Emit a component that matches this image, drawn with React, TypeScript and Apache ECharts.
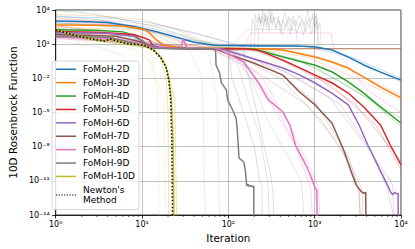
import React, { useEffect, useRef } from 'react';
import * as echarts from 'echarts';

// ---------- tick definitions ----------
const xMajorTicks = [1, 10, 100, 1000, 10000];
const yTickExponents = [-14, -11, -8, -5, -2, 1, 4];
const minorMantissas = [2, 3, 4, 5, 6, 7, 8, 9];
const minorDecades = [1, 10, 100, 1000];

// ---------- legend / series names ----------
const mainNames = ['FoMoH-2D', 'FoMoH-3D', 'FoMoH-4D', 'FoMoH-5D', 'FoMoH-6D', 'FoMoH-7D', 'FoMoH-8D', 'FoMoH-9D', 'FoMoH-10D'];
const newtonName = "Newton's Method";

// ---------- main curves: [iteration, function value] ----------
const fomoh2D = [[1, 1100], [2, 1000], [4, 800], [8, 350], [15, 120], [25, 40], [40, 15], [70, 8], [200, 7], [600, 6.8], [1000, 6], [1600, 3], [2500, 0.7], [3700, 0.15], [5800, 0.035], [10000, 0.007]];
const fomoh3D = [[1, 480], [3, 450], [6, 400], [9, 250], [11, 180], [13, 60], [15, 20], [18, 8], [30, 4.5], [100, 4.2], [250, 4], [430, 3.1], [1000, 0.75], [1600, 0.27], [2450, 0.08], [3700, 0.013], [5800, 0.0017], [10000, 0.00019]];
const fomoh4D = [[1, 180], [3, 170], [6, 120], [8, 60], [10, 20], [12, 6], [20, 4.3], [100, 4.1], [200, 3.8], [430, 0.75], [1000, 0.15], [1600, 0.036], [2450, 0.0048], [3700, 0.00051], [5800, 0.00003], [10000, 1.2e-6]];
const fomoh5D = [[1, 130], [3, 110], [8, 70], [12, 25], [14, 5], [30, 4.2], [150, 4], [220, 3], [430, 0.4], [1000, 0.02], [1600, 0.0039], [2450, 0.00051], [3700, 0.00003], [5800, 8e-7], [7500, 1.4e-8], [10000, 2.5e-10]];
const fomoh6D = [[1, 100], [4, 90], [8, 50], [12, 8], [20, 4.2], [83, 3.9], [200, 0.5], [430, 0.08], [668, 0.02], [1013, 0.0039], [1580, 0.0005], [2455, 0.000046], [3265, 8e-7], [4130, 1.4e-8], [5350, 2.5e-10], [6950, 4.4e-12], [7500, 1.2e-12], [8000, 6e-13], [8500, 1e-12], [9000, 7e-13], [9250, 8e-13], [9300, 1e-17]];
const fomoh7D = [[1, 70], [5, 50], [10, 15], [14, 4.3], [69, 4], [108, 1.1], [197, 0.22], [430, 0.019], [668, 0.00063], [1013, 0.000046], [1580, 1.2e-6], [1890, 5.8e-8], [2210, 3.4e-9], [2650, 6.3e-11], [3020, 4.4e-12], [3440, 1.2e-12], [3720, 8e-13], [3900, 1e-12], [3950, 1e-17]];
const fomoh8D = [[1, 40], [5, 30], [10, 10], [14, 4.5], [28, 4.3], [30, 30], [33, 5], [40, 4.3], [75, 4], [151, 0.27], [224, 0.0039], [290, 0.00013], [430, 1.1e-5], [515, 8e-7], [600, 1.4e-8], [720, 1e-9], [822, 1.35e-10], [935, 1.2e-11], [1013, 2.3e-12], [1060, 1.6e-12], [1070, 1e-17]];
const fomoh9D = [[1, 50], [4, 40], [9, 10], [13, 4.3], [69, 4], [71, 3], [72, 0.15], [79, 0.03], [83, 0.004], [95, 0.00095], [98, 0.00013], [108, 3e-5], [123, 3.3e-6], [126, 5.4e-7], [133, 1e-9], [151, 4.5e-10], [158, 6.3e-11], [163, 3.5e-12], [170, 5e-12], [175, 3e-12], [180, 4e-12], [190, 3e-12], [197, 3.5e-12], [198, 1e-17]];
const fomoh10D = [[1, 180], [2, 45], [3, 24], [3.7, 19], [4.3, 27], [5.6, 16], [7.2, 10.5], [10.4, 8.3], [13.5, 3.3], [16.6, 0.7], [18.9, 0.12], [20.4, 0.01], [21.8, 2e-4], [22.8, 1e-7], [23.3, 1e-12], [23.5, 1e-17]];
const newton = [[1, 175], [2, 43], [3, 23.5], [3.7, 19], [4.3, 28], [5.6, 15.5], [7.2, 10.2], [10.4, 8.5], [13.5, 3.1], [16.6, 0.6], [18.9, 0.1], [20.4, 0.007], [21.5, 1.3e-4], [22.2, 1e-8], [22.7, 1e-17]];

// ---------- faint individual runs ----------
const runBlueA = [[1, 3000], [3, 1500], [10, 300], [30, 30], [100, 8], [600, 7], [1500, 4], [3000, 0.5], [10000, 0.01]];
const runBlueB = [[1, 600], [5, 500], [20, 60], [60, 7.5], [800, 6.5], [2000, 1.2], [5000, 0.06], [10000, 0.005]];
const runOrangeA = [[1, 2000], [4, 900], [15, 80], [40, 4.5], [300, 4.2], [1000, 1], [3000, 0.03], [10000, 0.0003]];
const runOrangeB = [[1, 300], [8, 200], [20, 10], [200, 4], [800, 0.8], [3000, 0.01], [10000, 0.00012]];
const runGreenA = [[1, 800], [10, 200], [30, 5], [150, 4], [600, 0.5], [2000, 0.005], [10000, 3e-6]];
const runGreenB = [[1, 120], [6, 80], [14, 4.3], [250, 3.5], [1000, 0.1], [4000, 0.0002], [10000, 6e-7]];
const runRedA = [[1, 400], [10, 50], [20, 4.2], [180, 3.8], [800, 0.05], [3000, 0.00005], [10000, 5e-10]];
const runRedB = [[1, 90], [8, 60], [16, 4.2], [250, 2.5], [1500, 0.003], [5000, 1e-6], [10000, 1e-10]];
const runPurpleA = [[1, 250], [10, 40], [20, 4.2], [100, 3.5], [500, 0.03], [2000, 0.00005], [5000, 1e-9], [8000, 5e-12], [8600, 1e-17]];
const runPurpleB = [[1, 70], [12, 10], [25, 4.1], [70, 3.8], [300, 0.2], [1500, 0.0002], [4500, 3e-9], [7000, 2e-12], [9800, 1e-17]];
const runBrownA = [[1, 150], [10, 20], [18, 4.2], [60, 3.9], [200, 0.05], [800, 0.00005], [2000, 1e-8], [3000, 1e-11], [3300, 1e-12], [3400, 1e-17]];
const runBrownB = [[1, 60], [14, 4.1], [90, 3.5], [400, 0.01], [1200, 2e-6], [2800, 1e-10], [3500, 2e-12], [3800, 1e-17]];
const runBrownC = [[1, 40], [40, 4.2], [120, 3], [350, 0.05], [1000, 0.0001], [2500, 1e-9], [3200, 2e-12], [3650, 1e-17]];
const runPinkA = [[1, 200], [15, 4.5], [60, 4], [120, 0.5], [300, 0.0001], [600, 1e-8], [800, 3e-11], [900, 2e-12], [1000, 1e-17]];
const runPinkB = [[1, 90], [20, 4.3], [100, 3.5], [250, 0.01], [500, 1e-6], [900, 1e-10], [1100, 3e-12], [1200, 1e-17]];
const runPinkC = [[1, 30], [150, 4.2], [180, 95], [1550, 95], [1650, 5], [2500, 0.1], [4000, 0.001], [10000, 1e-5]];
const runPinkD = [[100, 4], [170, 200], [600, 200], [650, 4]];
const runPinkE = [[1, 50], [30, 4.3], [90, 3.7], [180, 0.05], [350, 5e-5], [700, 1e-9], [1000, 1e-11], [1150, 1e-17]];
const runGrayA = [[1, 100], [40, 4.2], [150, 4], [160, 0.1], [200, 1e-4], [260, 1e-8], [300, 1e-10], [330, 1e-12], [340, 1e-17]];
const runGrayB = [[1, 60], [60, 4], [100, 3.8], [110, 0.01], [150, 1e-5], [200, 1e-8], [230, 1e-11], [245, 5e-12], [250, 1e-17]];
const runGrayC = [[1, 200], [30, 4], [120, 3.5], [180, 0.01], [300, 1e-6], [500, 1e-9], [700, 1e-11], [800, 1e-17]];
const runGrayD = [[1, 80], [20, 4.3], [90, 3.6], [130, 0.1], [170, 1e-4], [230, 1e-7], [270, 1e-10], [290, 3e-12], [300, 1e-17]];
const runGrayNoisyA = [[200, 4], [205, 4000], [215, 800], [225, 5000], [235, 600], [245, 3000], [255, 400], [265, 6000], [275, 300], [285, 2500], [295, 150], [310, 4000], [325, 500], [340, 2000], [360, 200], [380, 3000], [400, 100], [430, 1500], [460, 300], [500, 2500], [540, 150], [580, 1200], [620, 90], [680, 800], [740, 60], [800, 1000], [870, 300], [950, 5000], [1000, 100], [1050, 4000], [1100, 200], [1150, 800], [1200, 4], [1500, 3.8]];
const runGrayNoisyB = [[180, 4], [190, 1500], [210, 200], [230, 2500], [250, 120], [270, 1800], [290, 500], [320, 7000], [350, 300], [390, 1200], [420, 60], [470, 900], [520, 70], [560, 3000], [650, 250], [720, 1500], [780, 120], [850, 2000], [920, 80], [980, 700], [1030, 3000], [1080, 150], [1130, 4], [1300, 3.9]];
const runGrayNoisyC = [[220, 4], [228, 2000], [240, 700], [250, 8000], [262, 900], [272, 3500], [282, 1200], [300, 9000], [315, 700], [332, 2500], [370, 1500], [410, 400], [450, 6000], [490, 700], [530, 1800], [600, 400], [660, 3500], [760, 500], [830, 8000], [890, 1000], [960, 2500], [1010, 300], [1060, 1200], [1090, 4]];
const runOliveA = [[1, 250], [3, 30], [8, 9], [12, 5], [16, 1], [19, 0.01], [20, 1e-5], [20.5, 1e-17]];
const runOliveB = [[1, 100], [3, 20], [9, 7], [14, 3], [20, 0.05], [24, 1e-4], [25.5, 1e-17]];
const runTopGreen = [[1, 9000], [2, 6000], [5, 2000], [15, 300], [40, 30], [80, 5]];
const runTopOrange = [[1, 4000], [3, 3000], [10, 1500], [25, 200], [50, 20], [100, 4.5]];
const runTopBlue = [[1, 2500], [4, 2000], [12, 800], [40, 100], [120, 10], [400, 7]];
const runTopPink = [[1, 1500], [6, 1000], [20, 300], [60, 40], [150, 5]];
const runTopPurple = [[1, 700], [10, 400], [30, 50], [70, 4.5]];
const runTopRed = [[1, 1000], [5, 600], [15, 100], [35, 10], [60, 4.2]];
const runStuckBrown = [[20, 4.1], [100, 3.99], [10000, 3.99]];
const runStuckOrange = [[30, 4.05], [200, 3.99], [10000, 3.99]];
const dotRunA = [[1, 80], [5, 10], [10, 5], [13, 1], [15, 1e-3], [16, 1e-17]];
const dotRunB = [[1, 300], [10, 20], [40, 4], [60, 1], [75, 1e-4], [80, 1e-17]];
const dotRunC = [[1, 40], [4, 8], [8, 4], [12, 0.5], [18, 1e-4], [19, 1e-17]];
const dotRunD = [[1, 500], [6, 50], [20, 8], [35, 3], [50, 0.01], [55, 1e-17]];
const dotRunE = [[1, 20], [3, 6], [6, 1], [8, 1e-3], [9.5, 1e-17]];

const COLORS = ['#1f77b4', '#ff7f0e', '#2ca02c', '#d62728', '#9467bd', '#8c564b', '#e377c2', '#7f7f7f', '#bcbd22'];
const fade = (hex: string, a: number) => {
  const n = parseInt(hex.slice(1), 16);
  return `rgba(${(n >> 16) & 255},${(n >> 8) & 255},${n & 255},${a})`;
};

const SUP: Record<string, string> = { '0': '⁰', '1': '¹', '2': '²', '3': '³', '4': '⁴', '5': '⁵', '6': '⁶', '7': '⁷', '8': '⁸', '9': '⁹', '-': '⁻' };
const pow10Label = (e: number) => '10' + String(e).split('').map((c) => SUP[c] || c).join('');

const Y_OFFSET = 14; // y axis holds log10(value) + 14 so ticks fall on multiples of 3
const toXY = (d: number[][]) => d.map(([x, v]) => [x, Math.log10(v) + Y_OFFSET]);

const DOTTED_ICON = 'path://M0,0h1.2v1h-1.2zM2.7,0h1.2v1h-1.2zM5.4,0h1.2v1h-1.2zM8.1,0h1.2v1h-1.2zM10.8,0h1.2v1h-1.2zM13.5,0h1.2v1h-1.2zM16.2,0h1.2v1h-1.2zM18.8,0h1.2v1h-1.2z';

export default function App() {
  const ref = useRef<HTMLDivElement>(null);
  useEffect(() => {
    if (!ref.current) return;
    const chart = echarts.init(ref.current, undefined, { renderer: 'svg' });
    const font = 'DejaVu Sans';

    const faintRuns: { d: number[][]; c: string; a: number; dotted?: boolean }[] = [
      { d: runTopGreen, c: COLORS[2], a: 0.25 },
      { d: runTopOrange, c: COLORS[1], a: 0.25 },
      { d: runTopBlue, c: COLORS[0], a: 0.25 },
      { d: runTopPink, c: COLORS[6], a: 0.25 },
      { d: runTopPurple, c: COLORS[4], a: 0.25 },
      { d: runTopRed, c: COLORS[3], a: 0.25 },
      { d: runGrayNoisyA, c: COLORS[7], a: 0.2 },
      { d: runGrayNoisyB, c: COLORS[7], a: 0.2 },
      { d: runGrayNoisyC, c: COLORS[7], a: 0.2 },
      { d: runGrayA, c: COLORS[7], a: 0.25 },
      { d: runGrayB, c: COLORS[7], a: 0.25 },
      { d: runGrayC, c: COLORS[7], a: 0.2 },
      { d: runGrayD, c: COLORS[7], a: 0.2 },
      { d: runBlueA, c: COLORS[0], a: 0.25 },
      { d: runBlueB, c: COLORS[0], a: 0.25 },
      { d: runOrangeA, c: COLORS[1], a: 0.25 },
      { d: runOrangeB, c: COLORS[1], a: 0.25 },
      { d: runGreenA, c: COLORS[2], a: 0.25 },
      { d: runGreenB, c: COLORS[2], a: 0.25 },
      { d: runRedA, c: COLORS[3], a: 0.25 },
      { d: runRedB, c: COLORS[3], a: 0.25 },
      { d: runPurpleA, c: COLORS[4], a: 0.25 },
      { d: runPurpleB, c: COLORS[4], a: 0.25 },
      { d: runBrownA, c: COLORS[5], a: 0.22 },
      { d: runBrownB, c: COLORS[5], a: 0.22 },
      { d: runBrownC, c: COLORS[5], a: 0.22 },
      { d: runPinkA, c: COLORS[6], a: 0.3 },
      { d: runPinkB, c: COLORS[6], a: 0.3 },
      { d: runPinkC, c: COLORS[6], a: 0.3 },
      { d: runPinkD, c: COLORS[6], a: 0.25 },
      { d: runPinkE, c: COLORS[6], a: 0.3 },
      { d: runOliveA, c: COLORS[8], a: 0.35 },
      { d: runOliveB, c: COLORS[8], a: 0.35 },
      { d: runStuckOrange, c: COLORS[1], a: 0.45 },
      { d: runStuckBrown, c: COLORS[5], a: 0.65 },
      { d: dotRunA, c: COLORS[8], a: 0.5, dotted: true },
      { d: dotRunB, c: COLORS[7], a: 0.45, dotted: true },
      { d: dotRunC, c: COLORS[8], a: 0.5, dotted: true },
      { d: dotRunD, c: COLORS[7], a: 0.45, dotted: true },
      { d: dotRunE, c: COLORS[7], a: 0.45, dotted: true },
    ];

    const mainData = [fomoh2D, fomoh3D, fomoh4D, fomoh5D, fomoh6D, fomoh7D, fomoh8D, fomoh9D, fomoh10D];

    const minorTicks: number[][] = [];
    minorDecades.forEach((d) => minorMantissas.forEach((m) => minorTicks.push([m * d, 0])));

    const series: any[] = [];
    faintRuns.forEach((r, i) => {
      series.push({
        id: 'faint' + i,
        type: 'line',
        data: toXY(r.d),
        showSymbol: false,
        symbol: 'none',
        silent: true,
        z: 1,
        lineStyle: { color: fade(r.c, r.a), width: r.dotted ? 0.8 : 1, type: r.dotted ? [1, 1.6] : 'solid' },
      });
    });
    mainData.forEach((d, i) => {
      series.push({
        name: mainNames[i],
        type: 'line',
        data: toXY(d),
        showSymbol: false,
        symbol: 'none',
        silent: true,
        z: 2,
        color: COLORS[i],
        lineStyle: { color: COLORS[i], width: 1.5 },
      });
    });
    series.push({
      name: newtonName,
      type: 'line',
      data: toXY(newton),
      showSymbol: false,
      symbol: 'none',
      silent: true,
      z: 3,
      color: '#000',
      lineStyle: { color: '#000', width: 1.5, type: [1.5, 2] },
    });
    series.push({
      id: 'minorTicks',
      type: 'custom',
      silent: true,
      clip: false,
      z: 5,
      data: minorTicks,
      encode: { x: 0, y: 1 },
      renderItem: (_p: any, api: any) => {
        const pt = api.coord([api.value(0), 0]);
        return {
          type: 'line',
          shape: { x1: pt[0], y1: pt[1], x2: pt[0], y2: pt[1] + 2 },
          style: { stroke: '#000', lineWidth: 0.6 },
        };
      },
    });

    chart.setOption({
      animation: false,
      backgroundColor: '#fff',
      textStyle: { fontFamily: font },
      grid: { left: 47, right: 14, top: 10, bottom: 34, show: true, borderColor: '#000', borderWidth: 0.8, backgroundColor: 'transparent' },
      legend: {
        data: [...mainNames.map((n) => ({ name: n, icon: 'rect' })), { name: newtonName, icon: DOTTED_ICON }],
        orient: 'vertical',
        left: 52,
        top: 61,
        padding: [3, 4, 4, 4],
        itemWidth: 20,
        itemHeight: 1.5,
        itemGap: 2.9,
        backgroundColor: 'rgba(255,255,255,0.85)',
        borderColor: '#cccccc',
        borderWidth: 0.8,
        borderRadius: 3,
        selectedMode: false,
        formatter: (n: string) => (n === newtonName ? "Newton's\nMethod" : n),
        textStyle: { fontFamily: font, fontSize: 9, lineHeight: 10.5, color: '#000', padding: [0, 0, 0, 2] },
      },
      xAxis: {
        type: 'log',
        logBase: 10,
        min: xMajorTicks[0],
        max: xMajorTicks[xMajorTicks.length - 1],
        name: 'Iteration',
        nameLocation: 'middle',
        nameGap: 13,
        nameTextStyle: { fontFamily: font, fontSize: 10.4, color: '#000' },
        axisLine: { show: true, lineStyle: { color: '#000', width: 0.8 } },
        axisTick: { show: true, length: 3.5, lineStyle: { color: '#000', width: 0.8 } },
        axisLabel: { fontFamily: font, fontSize: 8, color: '#000', margin: 5, formatter: (v: number) => pow10Label(Math.round(Math.log10(v))) },
        splitLine: { show: true, lineStyle: { color: '#b0b0b0', width: 0.8 } },
        minorTick: { show: false },
      },
      yAxis: {
        type: 'value',
        min: yTickExponents[0] + Y_OFFSET,
        max: yTickExponents[yTickExponents.length - 1] + Y_OFFSET,
        interval: 3,
        name: '10D Rosenbrock Function',
        nameLocation: 'middle',
        nameGap: 30,
        nameTextStyle: { fontFamily: font, fontSize: 10.4, color: '#000' },
        axisLine: { show: true, lineStyle: { color: '#000', width: 0.8 } },
        axisTick: { show: true, length: 3.5, lineStyle: { color: '#000', width: 0.8 } },
        axisLabel: { fontFamily: font, fontSize: 8, color: '#000', margin: 6, formatter: (v: number) => pow10Label(Math.round(v - Y_OFFSET)) },
        splitLine: { show: true, lineStyle: { color: '#b0b0b0', width: 0.8 } },
      },
      series,
    });
    return () => chart.dispose();
  }, []);
  return <div ref={ref} style={{ position: 'fixed', left: 0, top: 0, width: 415, height: 249 }} />;
}
